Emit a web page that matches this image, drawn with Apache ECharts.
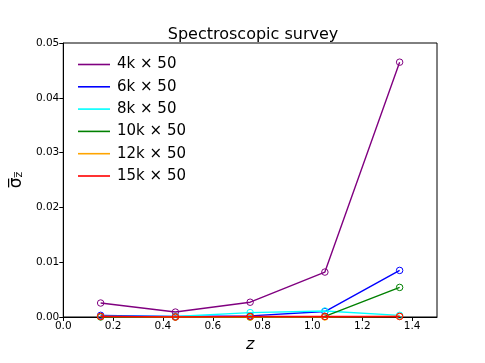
<!DOCTYPE html>
<html>
<head>
<meta charset="utf-8">
<script src="https://cdn.jsdelivr.net/npm/echarts@6/dist/echarts.min.js"></script>
<style>
html, body { margin: 0; padding: 0; background: #fff; }
#main { width: 485px; height: 363px; }
</style>
</head>
<body>
<div id="main"></div>
<script>
var zValues = [0.15, 0.45, 0.75, 1.05, 1.35];
var names = ['4k × 50', '6k × 50', '8k × 50', '10k × 50', '12k × 50', '15k × 50'];
var colors = ['#800080', '#0000ff', '#00ffff', '#008000', '#ffa500', '#ff0000'];
var s4k = [0.00255, 0.0009, 0.0027, 0.0082, 0.0465];
var s6k = [0.0003, 0.0001, 0.0002, 0.0010, 0.0085];
var s8k = [0.0001, 0.0001, 0.0008, 0.0011, 0.0003];
var s10k = [0.0000, 0.0000, 0.0000, 0.0001, 0.0054];
var s12k = [0.0001, 0.0000, 0.0000, 0.0000, 0.0001];
var s15k = [0.0001, 0.0000, 0.0001, 0.0001, 0.0001];
var allSeries = [s4k, s6k, s8k, s10k, s12k, s15k];

var myChart = echarts.init(document.getElementById('main'));

var series = [];
// 后画的在上面，和原图一样红线压在最上层
for (var i = 0; i < allSeries.length; i++) {
    var pts = [];
    for (var j = 0; j < zValues.length; j++) {
        pts.push([zValues[j], allSeries[i][j]]);
    }
    series.push({
        name: names[i],
        type: 'line',
        data: pts,
        symbol: 'circle',
        symbolSize: 6.5,
        lineStyle: { color: colors[i], width: 1.4 },
        itemStyle: { color: 'transparent', borderColor: colors[i], borderWidth: 1 },
        animation: false,
        z: 2 + i
    });
}

var legendData = [];
for (var k = 0; k < names.length; k++) {
    legendData.push({ name: names[k], itemStyle: { color: colors[k], borderWidth: 0 } });
}

var option = {
    title: {
        text: 'Spectroscopic survey',
        left: 248,
        textAlign: 'center',
        top: 22,
        textStyle: { fontFamily: 'DejaVu Sans', fontSize: 16, fontWeight: 'normal', color: '#000' }
    },
    legend: {
        data: legendData,
        orient: 'vertical',
        left: 73,
        top: 52,
        icon: 'rect',
        itemWidth: 32,
        itemHeight: 1.6,
        itemGap: 7.3,
        textStyle: { fontFamily: 'DejaVu Sans', fontSize: 15, color: '#000', padding: [0, 0, 0, 2] }
    },
    grid: {
        left: 60, right: 48, top: 43, bottom: 46,
        show: true, borderColor: '#000', borderWidth: 1, backgroundColor: 'transparent'
    },
    xAxis: {
        type: 'value',
        min: 0, max: 1.5, interval: 0.2,
        name: 'z',
        nameLocation: 'middle',
        nameGap: 18,
        nameTextStyle: { fontFamily: 'DejaVu Sans', fontStyle: 'italic', fontSize: 16, color: '#000' },
        axisLine: { lineStyle: { color: '#000' } },
        axisTick: { length: 4, lineStyle: { color: '#000' } },
        axisLabel: {
            showMaxLabel: false, color: '#000', fontFamily: 'DejaVu Sans', fontSize: 10.5, margin: 4,
            formatter: function (v) { return v.toFixed(1); }
        },
        splitLine: { show: false }
    },
    yAxis: {
        type: 'value',
        min: 0, max: 0.05, interval: 0.01,
        name: '{s|σ\u0305}{sub|z\u0305}',
        nameLocation: 'middle',
        nameGap: 27,
        nameTextStyle: {
            fontFamily: 'DejaVu Sans', fontSize: 16, color: '#000',
            rich: {
                s: { fontFamily: 'DejaVu Sans', fontSize: 17, color: '#000' },
                sub: { fontFamily: 'DejaVu Sans', fontSize: 11, color: '#000', verticalAlign: 'bottom', padding: [6, 0, 0, 0] }
            }
        },
        axisLine: { lineStyle: { color: '#000' } },
        axisTick: { length: 4, lineStyle: { color: '#000' } },
        axisLabel: {
            color: '#000', fontFamily: 'DejaVu Sans', fontSize: 10.5, margin: 4,
            formatter: function (v) { return v.toFixed(2); }
        },
        splitLine: { show: false }
    },
    series: series
};

myChart.setOption(option);
</script>
</body>
</html>
